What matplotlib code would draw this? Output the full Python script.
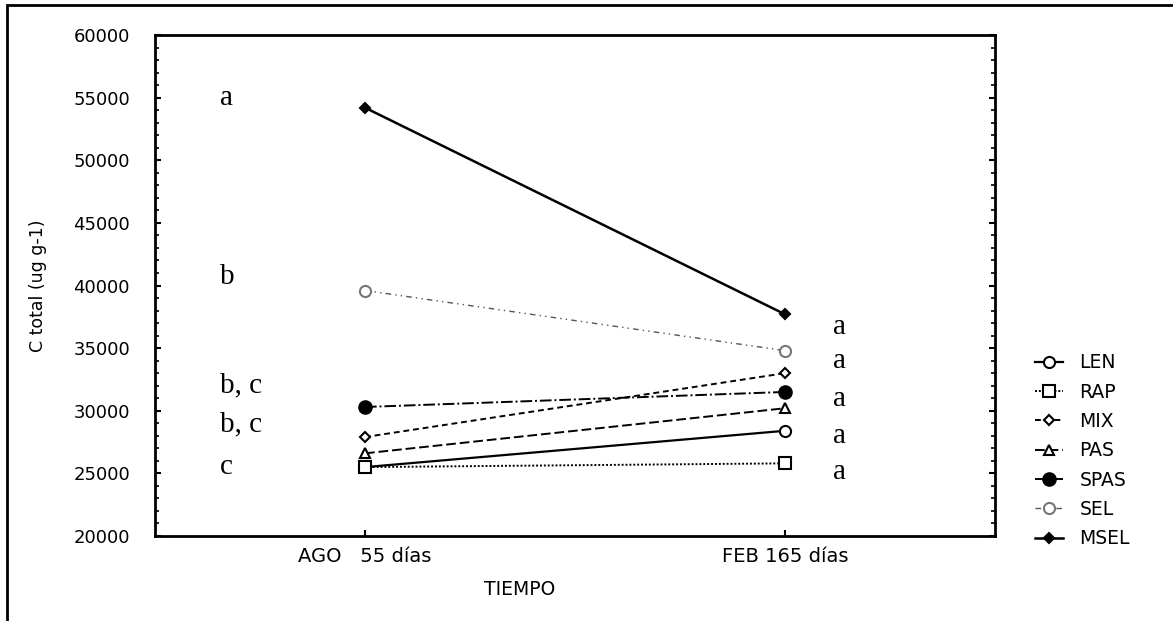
import matplotlib
matplotlib.use("Agg")
import matplotlib.pyplot as plt
from matplotlib.patches import Rectangle
from matplotlib.ticker import MultipleLocator

# datos (C total, ug g-1)
tiempos = ["AGO   55 días", "FEB 165 días"]
tratamientos = ["LEN", "RAP", "MIX", "PAS", "SPAS", "SEL", "MSEL"]
len_vals = [25500, 28400]
rap_vals = [25500, 25800]
mix_vals = [27900, 33000]
pas_vals = [26600, 30200]
spas_vals = [30300, 31500]
sel_vals = [39600, 34800]
msel_vals = [54200, 37700]

letras_ago = ["a", "b", "b, c", "b, c", "c"]
letras_ago_y = [55000, 40700, 32000, 28900, 25500]
letras_feb = ["a", "a", "a", "a", "a"]
letras_feb_y = [36700, 34000, 30900, 28000, 25100]

plt.rcParams['font.family'] = ['DejaVu Sans']

fig = plt.figure(figsize=(11.73, 6.21), dpi=100)
ax = fig.add_axes([0.1321, 0.1369, 0.7162, 0.8067])

x = [0, 1]
estilos = {
    "LEN": dict(ls='-', marker='o', mfc='white', ms=8, lw=1.6),
    "RAP": dict(ls=(0, (1, 1)), marker='s', mfc='white', ms=8, lw=1.4),
    "MIX": dict(ls=(0, (3, 2)), marker='D', mfc='white', ms=5, lw=1.4),
    "PAS": dict(ls=(0, (5, 2)), marker='^', mfc='white', ms=7, lw=1.4),
    "SPAS": dict(ls=(0, (6, 1.5, 1, 1.5)), marker='o', mfc='black', ms=9, lw=1.4),
    "SEL": dict(ls=(0, (4, 3, 1, 3, 1, 3)), marker='o', mfc='white', mec='#777777', ms=8, lw=1.0, color='#555555'),
    "MSEL": dict(ls='-', marker='D', mfc='black', ms=5, lw=1.8),
}
series = [len_vals, rap_vals, mix_vals, pas_vals, spas_vals, sel_vals, msel_vals]
for nombre, vals in zip(tratamientos, series):
    kw = dict(color='black', mec='black', mew=1.5)
    kw.update(estilos[nombre])
    ax.plot(x, vals, label=nombre, **kw)

for t, yv in zip(letras_ago, letras_ago_y):
    ax.text(-0.345, yv, t, family='Liberation Serif', fontsize=21, va='center', ha='left')
for t, yv in zip(letras_feb, letras_feb_y):
    ax.text(1.115, yv, t, family='Liberation Serif', fontsize=21, va='center', ha='left')

ax.set_xlim(-0.5, 1.5)
ax.set_ylim(20000, 60000)
ax.set_xticks(x)
ax.set_xticklabels(tiempos, fontsize=14)
ax.yaxis.set_major_locator(MultipleLocator(5000))
ax.yaxis.set_minor_locator(MultipleLocator(1000))
ax.tick_params(axis='y', labelsize=13, direction='in', right=True, length=4, width=1.5, pad=18)
ax.tick_params(axis='y', which='minor', direction='in', right=True, length=3, width=1.2)
ax.tick_params(axis='x', direction='in', length=4, width=1.5, pad=8)
for s in ax.spines.values():
    s.set_linewidth(2)

ax.set_ylabel("C total (ug g-1)", fontsize=12.5, labelpad=19)
fig.text(0.443, 0.051, "TIEMPO", fontsize=13.5, ha='center', va='center')

ax.legend(loc='center left', bbox_to_anchor=(1.027, 0.17), frameon=False,
          fontsize=13.5, handlelength=1.5, labelspacing=0.55, handletextpad=0.9)

# marco exterior de la figura
fig.add_artist(Rectangle((0.006, -0.1), 1.2, 1.092, transform=fig.transFigure,
                         fill=False, lw=2, ec='black'))

plt.savefig("out.png", dpi=100)
